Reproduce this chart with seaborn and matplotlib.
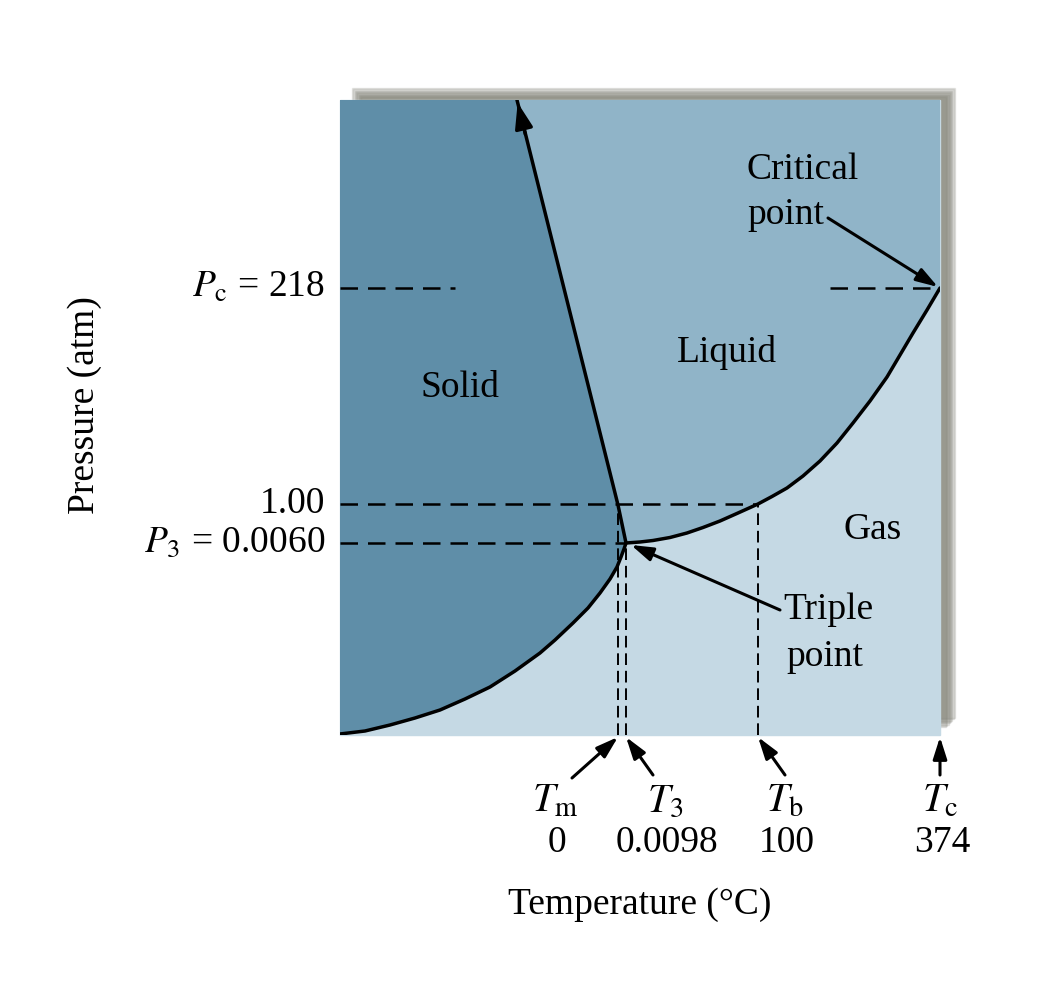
import matplotlib
matplotlib.use("Agg")
import matplotlib.pyplot as plt
import matplotlib.patches as mpatches
import pandas as pd
import seaborn as sns

# schematic coordinates (not to scale)
sub_T = [0, 25, 50, 75, 100, 125, 150, 175, 200, 215, 233, 248, 260, 270, 277, 281, 284, 286]
sub_P = [1, 4, 10, 17, 25, 36, 48, 64, 82, 95, 112, 127, 142, 156, 168, 178, 186, 192]
melt_T = [286, 282, 278, 177]
melt_P = [192, 211, 230, 635]
vap_T = [286, 300, 313, 330, 347, 363, 380, 398, 418, 432, 447, 463, 480, 497,
         513, 530, 547, 560, 573, 587, 600]
vap_P = [192, 193, 194.5, 197.5, 202, 207.5, 214, 222, 231, 238.5, 247, 259, 274, 292,
         312, 334, 358, 380, 402, 425, 447]

T_marks = [278, 286, 418, 600]
T_syms = [r"$T_\mathrm{m}$", r"$T_3$", r"$T_\mathrm{b}$", r"$T_\mathrm{c}$"]
T_vals = ["0", "0.0098", "100", "374"]
P_marks = [447, 231, 192]
P_labels = [r"$P_\mathrm{c}$ = 218", "1.00", r"$P_3$ = 0.0060"]

c_solid = "#5f8ea8"
c_liquid = "#90b4c8"
c_gas = "#c5d9e4"

sns.set_theme(style="white")
plt.rcParams["font.family"] = ["Liberation Serif", "DejaVu Serif"]
plt.rcParams["mathtext.fontset"] = "stix"
plt.rcParams["text.color"] = "black"
fs = 27

fig = plt.figure(figsize=(10.4, 9.9), dpi=100)
ax = fig.add_axes([340 / 1040, 255 / 990, 600 / 1040, 635 / 990])
ax.set_xlim(0, 600)
ax.set_ylim(0, 635)
ax.set_facecolor(c_gas)
for s in ax.spines.values():
    s.set_visible(False)
ax.set_xticks([])
ax.set_yticks([])

# soft shadow behind the panel
for i in range(8):
    d = i * 1.3
    r = mpatches.Rectangle(((352 + d) / 1040, (272 - d) / 990), (603 - 2 * d) / 1040, 630 / 990,
                           transform=fig.transFigure, color="#7d7d72", alpha=0.17, zorder=-5)
    fig.patches.append(r)
fig.patches.append(mpatches.Rectangle((340 / 1040, 255 / 990), 600 / 1040, 635 / 990,
                                      transform=fig.transFigure, color=c_gas, zorder=-4))

# regions
ax.fill(melt_T[::-1] + vap_T[1:] + [600], melt_P[::-1] + vap_P[1:] + [635], color=c_liquid, lw=0)
sol_T = [0] + melt_T[::-1] + sub_T[::-1][1:]
sol_P = [635] + melt_P[::-1] + sub_P[::-1][1:]
ax.fill(sol_T, sol_P, color=c_solid, lw=0)

curves = pd.concat([
    pd.DataFrame({"T": sub_T, "P": sub_P, "curve": "sub"}),
    pd.DataFrame({"T": melt_T, "P": melt_P, "curve": "melt"}),
    pd.DataFrame({"T": vap_T, "P": vap_P, "curve": "vap"}),
])
sns.lineplot(data=curves, x="T", y="P", units="curve", estimator=None, sort=False,
             color="black", lw=2.5, ax=ax, legend=False)
for ln in ax.lines:
    ln.set_solid_joinstyle("round")
ax.set_xlabel("")
ax.set_ylabel("")

# arrowhead at top of melting line
ax.annotate("", xy=(177, 635), xytext=(186, 598),
            arrowprops=dict(arrowstyle="-|>,head_length=1.3,head_width=0.45", color="black", lw=2.4))

# dashed guide lines
dash = dict(color="black", lw=1.8, dashes=(7, 4))
ax.plot([0, 115], [447, 447], **dash)
ax.plot([490, 600], [447, 447], **dash)
ax.plot([0, 418], [231, 231], **dash)
ax.plot([0, 286], [192, 192], **dash)
vdash = dict(color="black", lw=1.4, dashes=(6, 3))
ax.plot([278, 278], [0, 231], **vdash)
ax.plot([286, 286], [0, 192], **vdash)
ax.plot([418, 418], [0, 231], **vdash)

# region labels
ax.text(120, 347, "Solid", fontsize=fs, ha="center", va="center")
ax.text(387, 383, "Liquid", fontsize=fs, ha="center", va="center")
ax.text(533, 205, "Gas", fontsize=fs, ha="center", va="center")
ax.text(407, 565, "Critical", fontsize=fs, ha="left", va="center")
ax.text(407, 520, "point", fontsize=fs, ha="left", va="center")
ax.text(443, 125, "Triple", fontsize=fs, ha="left", va="center")
ax.text(446, 78, "point", fontsize=fs, ha="left", va="center")

arr = dict(arrowstyle="-|>,head_length=1.1,head_width=0.35", color="black", lw=2.2, shrinkA=0, shrinkB=0)
ax.annotate("", xy=(598, 448), xytext=(488, 517), arrowprops=arr)
ax.annotate("", xy=(291, 190), xytext=(440, 125), arrowprops=arr)

# temperature marks below the panel
tails = [(232, -43), (313, -40), (445, -40), (600, -40)]
sym_x = [215, 325, 445, 600]
for t, tail, sx, sym, val in zip(T_marks, tails, sym_x, T_syms, T_vals):
    ax.annotate("", xy=(t, -2), xytext=tail, arrowprops=arr, annotation_clip=False)
    ax.text(sx, -67, sym, fontsize=fs + 2, ha="center", va="center", clip_on=False)
    ax.text(sx + 2, -108, val, fontsize=fs, ha="center", va="center", clip_on=False)

# pressure labels
for p, lab in zip(P_marks, P_labels):
    ax.text(-15, p, lab, fontsize=fs, ha="right", va="center", clip_on=False)

ax.text(300, -170, "Temperature (°C)", fontsize=fs, ha="center", va="center", clip_on=False)
ax.text(-255, 330, "Pressure (atm)", fontsize=fs, ha="center", va="center", rotation=90, clip_on=False)

fig.savefig("out.png", dpi=100, facecolor="white")
